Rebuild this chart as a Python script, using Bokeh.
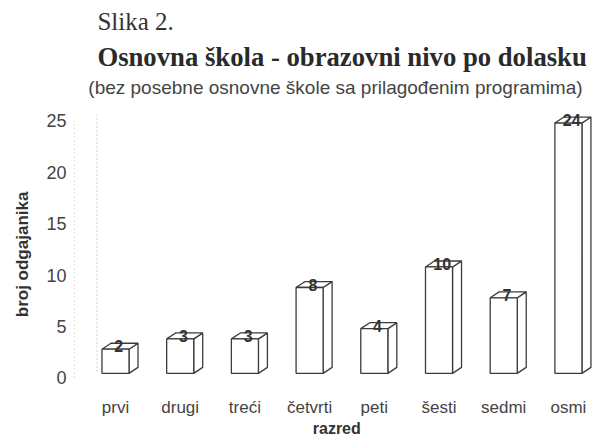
from bokeh.plotting import figure
from bokeh.models import FixedTicker, Range1d, ColumnDataSource
from bokeh.core.properties import value
from bokeh.embed import file_html
from bokeh.resources import INLINE

# ---- data ----
categories = ["prvi", "drugi", "treći", "četvrti", "peti", "šesti", "sedmi", "osmi"]
counts = [2, 3, 3, 8, 4, 10, 7, 24]
y_ticks = [0, 5, 10, 15, 20, 25]
fig_label = "Slika 2."
title_text = "Osnovna škola - obrazovni nivo po dolasku"
subtitle_text = "(bez posebne osnovne škole sa prilagođenim programima)"
y_label = "broj odgajanika"
x_label = "razred"

# ---- geometry (style constants) ----
HW = 0.209     # half width of bar front face (category units)
DX = 0.139     # depth offset x
DY = 0.58      # depth offset y (value units)
BASE = 0.45    # floor level of the front face
TOPADD = 0.8   # front face top offset above value

xs = list(range(len(categories)))
X0, X1 = -0.649, 7.434

p = figure(width=596, height=437, output_backend="svg", toolbar_location=None,
           x_range=Range1d(X0, X1), y_range=Range1d(-5.79, 36.72),
           x_axis_location=None,
           min_border_left=73, min_border_right=0, min_border_top=0, min_border_bottom=0)
p.outline_line_color = None
p.background_fill_color = "white"
p.border_fill_color = "white"
p.xgrid.visible = False
p.ygrid.visible = False

# y axis
p.yaxis.ticker = FixedTicker(ticks=y_ticks)
p.yaxis.axis_line_color = None
p.yaxis.major_tick_line_color = None
p.yaxis.minor_tick_line_color = None
p.yaxis.major_tick_out = 0
p.yaxis.major_tick_in = 0
p.yaxis.minor_tick_out = 0
p.yaxis.major_label_standoff = 7
p.yaxis.major_label_text_font = "Liberation Sans"
p.yaxis.major_label_text_font_size = "18px"
p.yaxis.major_label_text_color = "#444444"
# trailing no-break spaces shift the visible title down along the axis, as in the original
p.yaxis.axis_label = y_label + "\u00a0" * 15
p.yaxis.axis_label_text_font = "Liberation Sans"
p.yaxis.axis_label_text_font_style = "bold"
p.yaxis.axis_label_text_font_size = "17px"
p.yaxis.axis_label_text_color = "#333333"
p.yaxis.axis_label_standoff = 11

# faint back wall edges
p.segment(x0=[X0 + 0.01, X0 + DX * 2.6], y0=[0, 0.6], x1=[X0 + 0.01, X0 + DX * 2.6], y1=[25, 25.6],
          line_color="#d4d4d4", line_dash="2 2", line_width=1)

# 3D bars
fronts = dict(left=[x - HW for x in xs], right=[x + HW for x in xs],
              bottom=[BASE] * len(xs), top=[v + TOPADD for v in counts])
top_x, top_y, side_x, side_y = [], [], [], []
for x, v in zip(xs, counts):
    t = v + TOPADD
    top_x.append([x - HW, x + HW, x + HW + DX, x - HW + DX])
    top_y.append([t, t, t + DY, t + DY])
    side_x.append([x + HW, x + HW + DX, x + HW + DX, x + HW])
    side_y.append([BASE, BASE + DY, t + DY, t])

line_c = "#3c3c3c"
p.patches(side_x, side_y, fill_color="white", line_color=line_c, line_width=1.3)
p.patches(top_x, top_y, fill_color="white", line_color=line_c, line_width=1.3)
p.quad(source=ColumnDataSource(fronts), left="left", right="right", bottom="bottom", top="top",
       fill_color="white", line_color=line_c, line_width=1.3)

# value labels
p.text(x=[x + 0.05 for x in xs], y=[v + TOPADD + DY * 0.5 for v in counts],
       text=[str(v) for v in counts], text_align="center", text_baseline="middle",
       text_font=value("Liberation Sans"), text_font_style="bold", text_font_size="16px",
       text_color="#333333")

# category labels (x axis) and axis title
p.text(x=[x + 0.0 for x in xs], y=[-2.87] * len(xs), text=categories,
       text_align="center", text_baseline="middle",
       text_font=value("Liberation Sans"), text_font_size="17px", text_color="#444444")
p.text(x=[3.42], y=[-4.88], text=[x_label], text_align="center", text_baseline="middle",
       text_font=value("Liberation Sans"), text_font_style="bold", text_font_size="16px",
       text_color="#333333")

# headings
p.text(x=[-0.28], y=[34.68], text=[fig_label], text_align="left", text_baseline="middle",
       text_font=value("Liberation Serif"), text_font_size="25px", text_color="#333333")
p.text(x=[-0.28], y=[31.2], text=[title_text], text_align="left", text_baseline="middle",
       text_font=value("Liberation Serif"), text_font_style="bold", text_font_size="26.7px",
       text_color="#2a2a2a")
p.text(x=[-0.42], y=[28.25], text=[subtitle_text], text_align="left", text_baseline="middle",
       text_font=value("Liberation Sans"), text_font_size="19px", text_color="#444444")

open("out.html", "w").write(file_html(p, INLINE))
